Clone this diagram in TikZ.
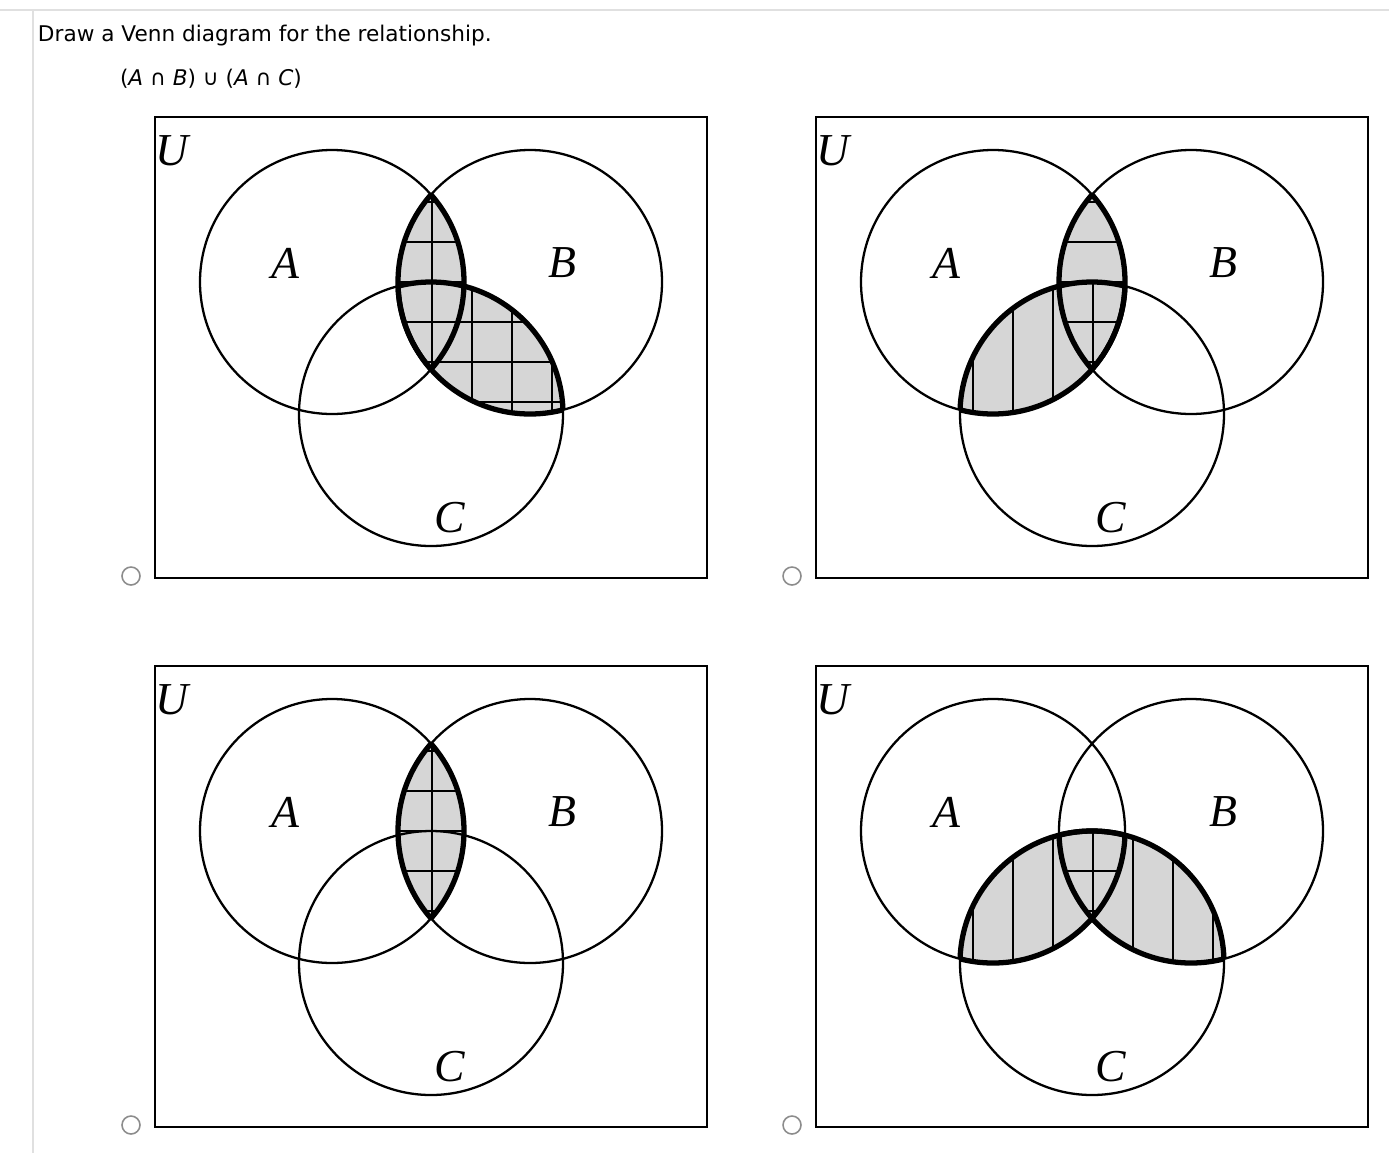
\documentclass[tikz,border=0pt]{standalone}
\usepackage{fontspec}
\setsansfont{DejaVu Sans}
\newfontfamily\lblfont{Liberation Serif}
\begin{document}
\begin{tikzpicture}[x=0.02cm,y=-0.02cm,line width=1.3pt,
  shd/.style={fill=black!16},
  hl/.style={line width=1.6pt},
  lbl/.style={font=\lblfont\itshape\fontsize{26}{26}\selectfont}]
\useasboundingbox (0,0) rectangle (1389,1153);
\draw[black!12,line width=0.6pt] (0,10) -- (1389,10);
\draw[black!12,line width=0.6pt] (33,10) -- (33,1153);
\node[anchor=west,font=\sffamily\fontsize{12.3}{15}\selectfont] (title) at (31,36) {Draw a Venn diagram for the relationship.};
\node[anchor=west,font=\sffamily\fontsize{12.3}{15}\selectfont] (expr) at (113,79) {(\textit{A} ∩ \textit{B}) ∪ (\textit{A} ∩ \textit{C})};
\def\cA{(332,282) circle[radius=132]}
\def\cB{(530,282) circle[radius=132]}
\def\cC{(431,414) circle[radius=132]}
\newcommand\fillreg[2]{\begin{scope}\clip #1; \fill[shd] #2;\end{scope}}
\newcommand\vlines[2]{\begin{scope}\clip #1; \clip #2; \foreach \x in {312,352,...,552} \draw[hl] (\x,140)--(\x,560);\end{scope}}
\newcommand\hlines[2]{\begin{scope}\clip #1; \clip #2; \foreach \y in {162,202,...,442} \draw[hl] (170,\y)--(700,\y);\end{scope}}
\newcommand\outl[2]{\begin{scope}\clip #1; \draw[line width=3pt] #2;\end{scope}\begin{scope}\clip #2; \draw[line width=3pt] #1;\end{scope}}
\newcommand\vframe{%
  \draw (155,117) rectangle (707,578);
  \node[lbl] at (172,151) {U};
  \node[lbl] at (285,263) {A};
  \node[lbl] at (562,263) {B};
  \node[lbl] at (450,518) {C};
  \draw[black!45,line width=0.9pt,fill=white] (131,576) circle[radius=9];}
\newcommand\circs{\draw \cA; \draw \cB; \draw \cC;}
% panel 1
\begin{scope}
\fillreg{\cA}{\cB}\fillreg{\cB}{\cC}
\vlines{\cA}{\cB}\hlines{\cA}{\cB}\vlines{\cB}{\cC}\hlines{\cB}{\cC}
\circs
\outl{\cA}{\cB}\outl{\cB}{\cC}
\vframe
\end{scope}
% panel 2
\begin{scope}[shift={(661,0)}]
\fillreg{\cA}{\cB}\fillreg{\cA}{\cC}
\hlines{\cA}{\cB}\vlines{\cA}{\cC}
\circs
\outl{\cA}{\cB}\outl{\cA}{\cC}
\vframe
\end{scope}
% panel 3
\begin{scope}[shift={(0,549)}]
\fillreg{\cA}{\cB}
\hlines{\cA}{\cB}\vlines{\cA}{\cB}
\circs
\outl{\cA}{\cB}
\vframe
\end{scope}
% panel 4
\begin{scope}[shift={(661,549)}]
\fillreg{\cA}{\cC}\fillreg{\cB}{\cC}
\vlines{\cA}{\cC}\vlines{\cB}{\cC}
\begin{scope}\clip \cA; \hlines{\cB}{\cC}\end{scope}
\circs
\outl{\cA}{\cC}\outl{\cB}{\cC}
\vframe
\end{scope}
\end{tikzpicture}
\end{document}
